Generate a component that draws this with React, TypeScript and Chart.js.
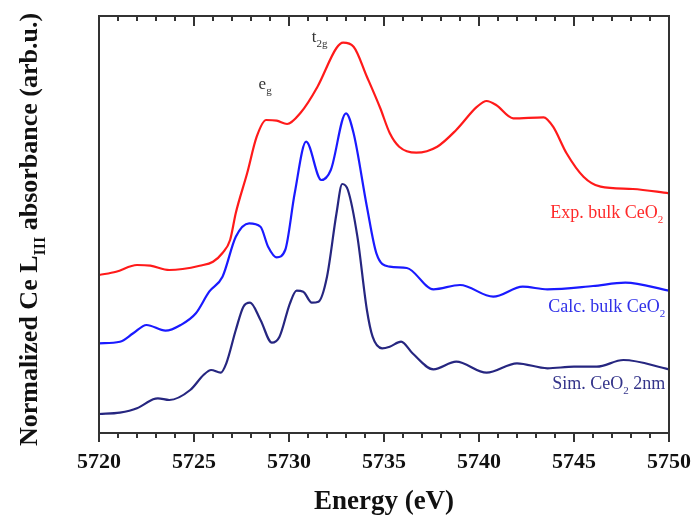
import React, { useEffect, useRef } from "react";
import { Chart, registerables } from "chart.js";

Chart.register(...registerables);

// ---- Data (energy in eV, absorbance in arbitrary units, vertically offset as in the figure)
const expEnergy = [5720, 5720.9, 5722.0, 5722.7, 5723.7, 5724.4, 5725.3, 5726.0, 5726.5, 5726.9, 5727.2, 5727.8, 5728.3, 5728.8, 5729.35, 5729.9, 5730.6, 5731.5, 5732.5, 5732.85, 5733.4, 5734.1, 5734.8, 5735.3, 5735.8, 5736.7, 5737.8, 5738.8, 5739.9, 5740.4, 5740.9, 5741.8, 5743.4, 5743.9, 5744.6, 5745.5, 5746.4, 5748.1, 5750];
const expValues = [158, 161.3, 168, 167.3, 163, 164, 167.3, 171.3, 180, 193, 220, 260, 296.3, 313, 312.3, 309, 320, 346.3, 385, 390.3, 386.3, 356.3, 325, 300, 286.3, 280.3, 286.3, 303, 326.3, 332, 328, 314.7, 315.7, 306.3, 280, 256.3, 246.3, 244, 239.7];

const calcEnergy = [5720, 5721.1, 5721.8, 5722.5, 5723.5, 5724.3, 5725.1, 5725.8, 5726.5, 5727.2, 5727.9, 5728.5, 5728.9, 5729.35, 5729.8, 5730.3, 5730.9, 5731.7, 5732.2, 5733.0, 5733.4, 5734.1, 5734.6, 5735.3, 5736.2, 5737.6, 5739.0, 5740.75, 5742.3, 5743.6, 5746.0, 5747.7, 5750];
const calcValues = [89.7, 91.3, 99.7, 108, 102.3, 108, 119.7, 141.3, 156.3, 196.3, 209.7, 206.3, 186.3, 175.7, 183, 239.7, 291.3, 253, 263, 319.7, 299.7, 226.3, 179.7, 166.3, 165, 143.7, 148, 136.3, 146.3, 143.7, 147, 150.3, 142.3];

const simEnergy = [5720, 5721.1, 5722, 5722.85, 5723.1, 5723.7, 5724.8, 5725.5, 5725.9, 5726.4, 5726.7, 5727.2, 5727.6, 5727.95, 5728.5, 5729.1, 5729.5, 5730.05, 5730.4, 5730.75, 5731.2, 5731.55, 5732.0, 5732.5, 5732.8, 5733.1, 5733.6, 5734.1, 5734.4, 5734.9, 5735.3, 5735.9, 5736.5, 5737.6, 5738.8, 5740.4, 5742.0, 5743.6, 5745.0, 5746.2, 5747.6, 5750];
const simValues = [19, 20.3, 24.7, 33.7, 34.7, 33, 43, 58, 63, 60.3, 69.7, 103, 126.3, 130.3, 113, 90.3, 96.3, 129.7, 142.3, 141.3, 130.3, 131.3, 156.3, 219.7, 249, 243, 196.3, 123, 96.3, 84.7, 86.3, 91.3, 79.7, 63.7, 71.3, 60.3, 69.7, 64.7, 66.3, 66.3, 73, 63.7];

const xMin = 5720;
const xMax = 5750;
const yMin = 0;
const yMax = 417;

const seriesNames = ["Exp. bulk CeO2", "Calc. bulk CeO2", "Sim. CeO2 2nm"];
const seriesColors = ["#ff1a1a", "#1a1aff", "#262680"];
const labelColors = ["#ff2a2a", "#3030e8", "#34348a"];

type Run = { text: string; sub?: boolean };

// label runs with subscripts, anchored in data coordinates (right-aligned x, centre y)
const seriesLabelRuns: Run[][] = [
  [{ text: "Exp. bulk CeO" }, { text: "2", sub: true }],
  [{ text: "Calc. bulk CeO" }, { text: "2", sub: true }],
  [{ text: "Sim. CeO" }, { text: "2", sub: true }, { text: " 2nm" }],
];
const seriesLabelAnchors = [
  { x: 5749.7, y: 221 },
  { x: 5749.8, y: 127 },
  { x: 5749.8, y: 50 },
];

const peakLabels = [
  { runs: [{ text: "e" }, { text: "g", sub: true }] as Run[], x: 5728.4, y: 344 },
  { runs: [{ text: "t" }, { text: "2g", sub: true }] as Run[], x: 5731.2, y: 391 },
];

const SERIF = "'Liberation Serif', 'Times New Roman', serif";

function runsWidth(ctx: CanvasRenderingContext2D, runs: Run[], size: number, weight: string) {
  let w = 0;
  for (const r of runs) {
    ctx.font = `${weight} ${r.sub ? Math.round(size * 0.62) : size}px ${SERIF}`;
    w += ctx.measureText(r.text).width;
  }
  return w;
}

function drawRuns(
  ctx: CanvasRenderingContext2D,
  runs: Run[],
  x: number,
  y: number,
  size: number,
  weight: string,
  color: string,
  align: "left" | "center" | "right"
) {
  const total = runsWidth(ctx, runs, size, weight);
  let cx = align === "left" ? x : align === "center" ? x - total / 2 : x - total;
  ctx.fillStyle = color;
  ctx.textAlign = "left";
  ctx.textBaseline = "alphabetic";
  for (const r of runs) {
    const s = r.sub ? Math.round(size * 0.62) : size;
    ctx.font = `${weight} ${s}px ${SERIF}`;
    ctx.fillText(r.text, cx, y + (r.sub ? size * 0.3 : 0));
    cx += ctx.measureText(r.text).width;
  }
}

const framePlugin = {
  id: "frame",
  afterDraw(chart: any) {
    const { ctx, chartArea } = chart;
    const xs = chart.scales.x;
    const ys = chart.scales.y;
    const { left, right, top, bottom } = chartArea;
    ctx.save();
    // frame
    ctx.strokeStyle = "#333";
    ctx.lineWidth = 2;
    ctx.strokeRect(left, top, right - left, bottom - top);
    // ticks: outward at bottom, inward at top
    ctx.lineWidth = 2;
    for (let v = xMin; v <= xMax; v += 1) {
      const px = Math.round(xs.getPixelForValue(v));
      const major = v % 5 === 0;
      ctx.beginPath();
      ctx.moveTo(px, bottom);
      ctx.lineTo(px, bottom + (major ? 9 : 5));
      ctx.moveTo(px, top);
      ctx.lineTo(px, top + (major ? 10 : 5));
      ctx.stroke();
    }
    // series labels
    for (let i = 0; i < seriesLabelRuns.length; i++) {
      const a = seriesLabelAnchors[i];
      drawRuns(ctx, seriesLabelRuns[i], xs.getPixelForValue(a.x), ys.getPixelForValue(a.y) + 6, 18, "normal", labelColors[i], "right");
    }
    // peak labels
    for (const p of peakLabels) {
      drawRuns(ctx, p.runs, xs.getPixelForValue(p.x), ys.getPixelForValue(p.y), 17, "normal", "#333", "left");
    }
    // y-axis title
    const yTitle: Run[] = [
      { text: "Normalized Ce L" },
      { text: "III", sub: true },
      { text: " absorbance (arb.u.)" },
    ];
    ctx.translate(37, (top + bottom) / 2 + 5);
    ctx.rotate(-Math.PI / 2);
    drawRuns(ctx, yTitle, 0, 0, 26, "bold", "#111", "center");
    ctx.restore();
  },
};

export default function App() {
  const ref = useRef<HTMLCanvasElement | null>(null);
  useEffect(() => {
    if (!ref.current) return;
    const mk = (ex: number[], vals: number[]) => ex.map((e, i) => ({ x: e, y: vals[i] }));
    const chart = new Chart(ref.current, {
      type: "line",
      data: {
        datasets: [
          { label: seriesNames[0], data: mk(expEnergy, expValues), borderColor: seriesColors[0] },
          { label: seriesNames[1], data: mk(calcEnergy, calcValues), borderColor: seriesColors[1] },
          { label: seriesNames[2], data: mk(simEnergy, simValues), borderColor: seriesColors[2] },
        ].map((d) => ({
          ...d,
          borderWidth: 2.2,
          pointRadius: 0,
          fill: false,
          cubicInterpolationMode: "monotone" as const,
        })),
      },
      options: {
        responsive: false,
        animation: false,
        events: [],
        layout: { padding: { left: 99, top: 16, right: 25, bottom: 0 } },
        plugins: { legend: { display: false }, tooltip: { enabled: false } },
        scales: {
          x: {
            type: "linear",
            min: xMin,
            max: xMax,
            position: "bottom",
            afterFit: (s: any) => {
              s.height = 85;
              s.paddingLeft = 0;
              s.paddingRight = 0;
            },
            grid: { display: false, drawTicks: false },
            border: { display: false },
            ticks: {
              stepSize: 5,
              padding: 16,
              color: "#111",
              font: { family: SERIF, size: 22, weight: "bold" },
              maxRotation: 0,
              callback: (v: any) => String(v),
            },
            title: {
              display: true,
              text: "Energy (eV)",
              color: "#111",
              font: { family: SERIF, size: 27, weight: "bold" },
              padding: { top: 0, bottom: 0 },
            },
          },
          y: {
            type: "linear",
            min: yMin,
            max: yMax,
            display: false,
          },
        },
      },
      plugins: [framePlugin],
    });
    return () => chart.destroy();
  }, []);
  return (
    <div style={{ position: "fixed", left: 0, top: 0, width: 694, height: 518, background: "#fff" }}>
      <canvas ref={ref} width={694} height={518} style={{ display: "block" }} />
    </div>
  );
}
